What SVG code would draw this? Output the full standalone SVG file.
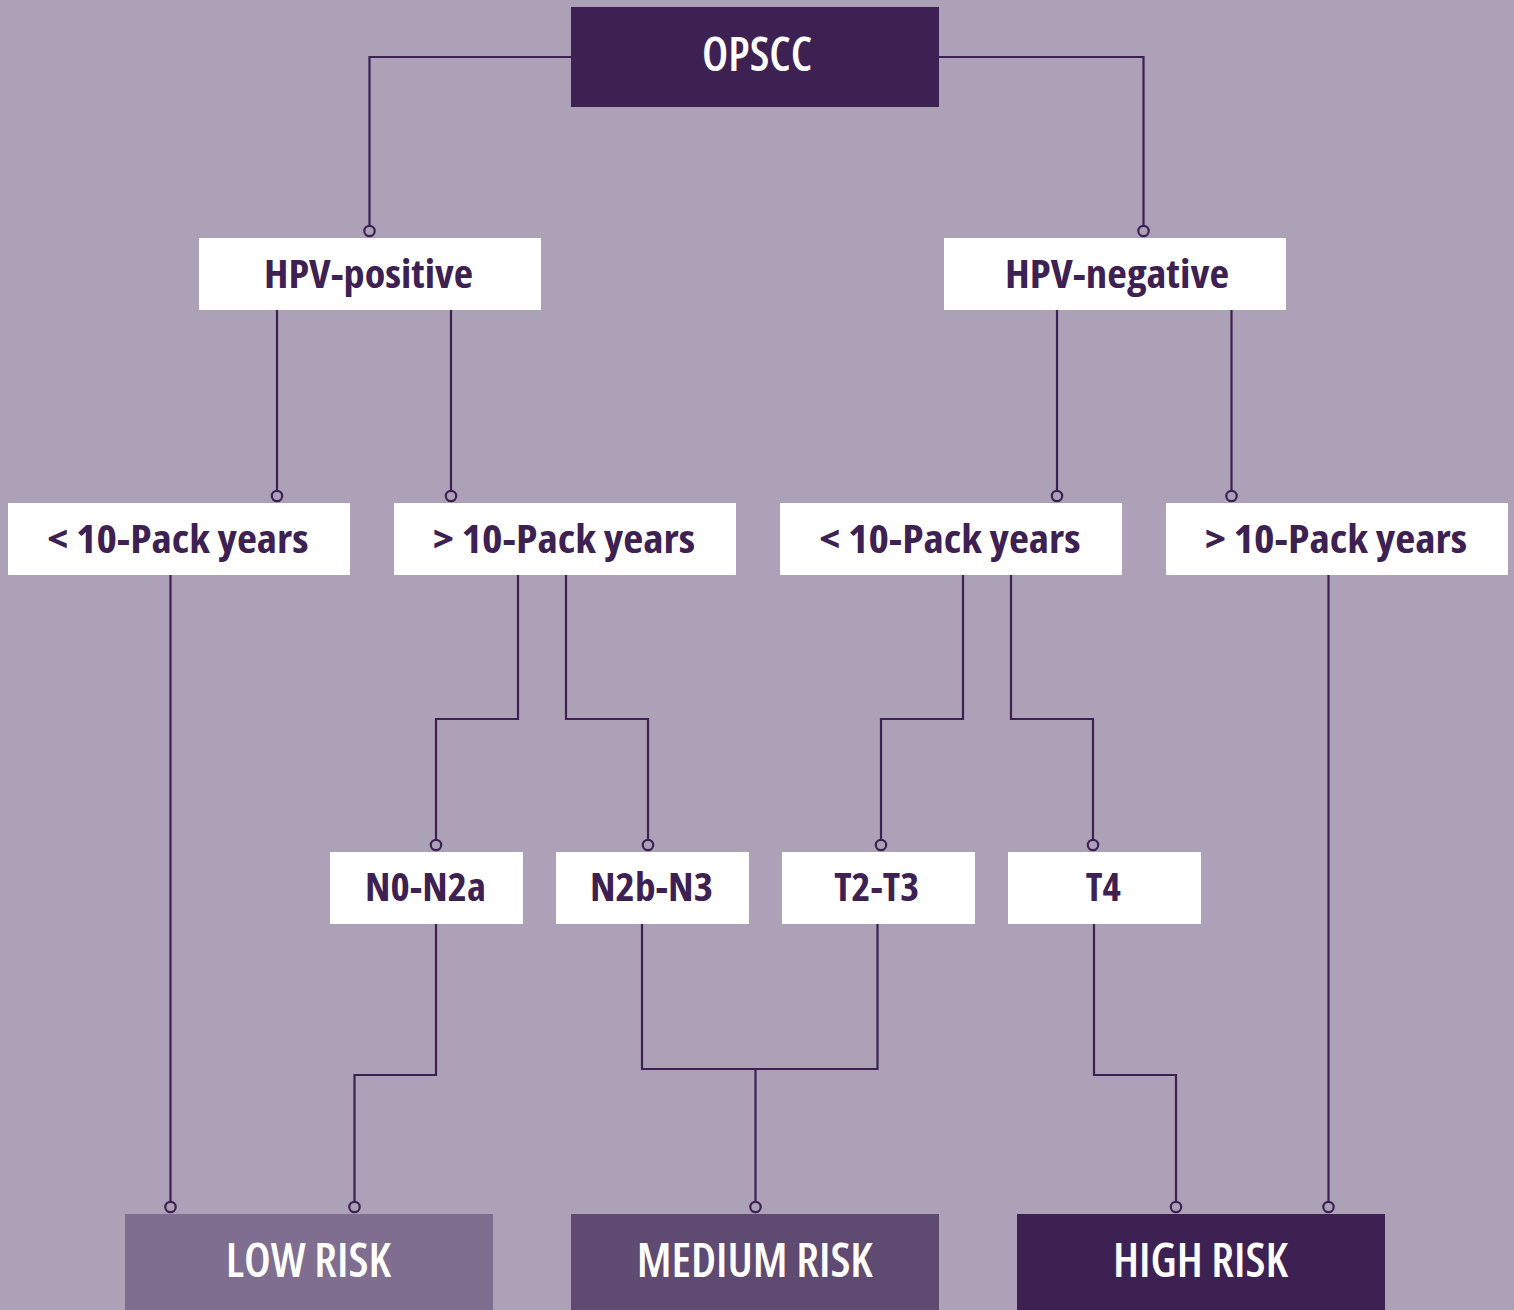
<svg xmlns="http://www.w3.org/2000/svg" width="1514" height="1310" viewBox="0 0 1514 1310">
<style>
  .bg{fill:#ADA1B8}
  .w{fill:#FFFFFF}
  .dark{fill:#3D2152}
  .low{fill:#7F6E90}
  .med{fill:#5F4A72}
  text{font-family:"Open Sans","DejaVu Sans",sans-serif;font-stretch:condensed;font-weight:700;text-anchor:middle}
  .t1{fill:#3D2152;font-size:40px}
  .t2{fill:#FFFFFF;font-size:47px;font-weight:600}
  .c{fill:none;stroke:#3D2152;stroke-width:2.2}
  .dot{fill:#ADA1B8;stroke:#3D2152;stroke-width:2.2}
</style>
<rect class="bg" x="0" y="0" width="1514" height="1310"/>
<g id="connectors">
  <path class="c" d="M571,57 H369.5 V226"/>
  <path class="c" d="M939,57 H1143.5 V226"/>
  <path class="c" d="M277,310 V491"/>
  <path class="c" d="M451,310 V491"/>
  <path class="c" d="M1057,310 V491"/>
  <path class="c" d="M1231.5,310 V491"/>
  <path class="c" d="M170.5,575 V1202"/>
  <path class="c" d="M518,575 V719 H436 V840"/>
  <path class="c" d="M566,575 V719 H648 V840"/>
  <path class="c" d="M963,575 V719 H881 V840"/>
  <path class="c" d="M1011,575 V719 H1093 V840"/>
  <path class="c" d="M1328.5,575 V1202"/>
  <path class="c" d="M436,924 V1075 H354.5 V1202"/>
  <path class="c" d="M642,924 V1069 H877.5 V924"/>
  <path class="c" d="M755.5,1069 V1202"/>
  <path class="c" d="M1094,924 V1075 H1176 V1202"/>
  <circle class="dot" cx="369.5" cy="231" r="5.2"/>
  <circle class="dot" cx="1143.5" cy="231" r="5.2"/>
  <circle class="dot" cx="277" cy="496" r="5.2"/>
  <circle class="dot" cx="451" cy="496" r="5.2"/>
  <circle class="dot" cx="1057" cy="496" r="5.2"/>
  <circle class="dot" cx="1231.5" cy="496" r="5.2"/>
  <circle class="dot" cx="436" cy="845" r="5.2"/>
  <circle class="dot" cx="648" cy="845" r="5.2"/>
  <circle class="dot" cx="881" cy="845" r="5.2"/>
  <circle class="dot" cx="1093" cy="845" r="5.2"/>
  <circle class="dot" cx="170.5" cy="1207" r="5.2"/>
  <circle class="dot" cx="354.5" cy="1207" r="5.2"/>
  <circle class="dot" cx="755.5" cy="1207" r="5.2"/>
  <circle class="dot" cx="1176" cy="1207" r="5.2"/>
  <circle class="dot" cx="1328.5" cy="1207" r="5.2"/>
</g>
<g id="opscc"><rect class="dark" x="571" y="7" width="368" height="100"/><text class="t2" x="757" y="71" textLength="110" lengthAdjust="spacingAndGlyphs">OPSCC</text></g>
<g id="hpv-pos"><rect class="w" x="199" y="238" width="342" height="72"/><text class="t1" x="368.5" y="288" textLength="209" lengthAdjust="spacingAndGlyphs">HPV-positive</text></g>
<g id="hpv-neg"><rect class="w" x="944" y="238" width="342" height="72"/><text class="t1" x="1117" y="288" textLength="224" lengthAdjust="spacingAndGlyphs">HPV-negative</text></g>
<g id="pos-lt10"><rect class="w" x="8" y="503" width="342" height="72"/><text class="t1" x="178" y="553" textLength="261" lengthAdjust="spacingAndGlyphs">&lt; 10-Pack years</text></g>
<g id="pos-gt10"><rect class="w" x="394" y="503" width="342" height="72"/><text class="t1" x="564" y="553" textLength="262" lengthAdjust="spacingAndGlyphs">&gt; 10-Pack years</text></g>
<g id="neg-lt10"><rect class="w" x="780" y="503" width="342" height="72"/><text class="t1" x="950" y="553" textLength="261" lengthAdjust="spacingAndGlyphs">&lt; 10-Pack years</text></g>
<g id="neg-gt10"><rect class="w" x="1166" y="503" width="342" height="72"/><text class="t1" x="1336" y="553" textLength="262" lengthAdjust="spacingAndGlyphs">&gt; 10-Pack years</text></g>
<g id="n0n2a"><rect class="w" x="330" y="852" width="193" height="72"/><text class="t1" x="425.5" y="901" textLength="121" lengthAdjust="spacingAndGlyphs">N0-N2a</text></g>
<g id="n2bn3"><rect class="w" x="556" y="852" width="193" height="72"/><text class="t1" x="651.5" y="901" textLength="123" lengthAdjust="spacingAndGlyphs">N2b-N3</text></g>
<g id="t2t3"><rect class="w" x="782" y="852" width="193" height="72"/><text class="t1" x="876.7" y="901" textLength="85" lengthAdjust="spacingAndGlyphs">T2-T3</text></g>
<g id="t4"><rect class="w" x="1008" y="852" width="193" height="72"/><text class="t1" x="1103.2" y="901" textLength="35" lengthAdjust="spacingAndGlyphs">T4</text></g>
<g id="low"><rect class="low" x="125" y="1214" width="368" height="96"/><text class="t2" x="308.3" y="1277" textLength="165" lengthAdjust="spacingAndGlyphs">LOW RISK</text></g>
<g id="medium"><rect class="med" x="571" y="1214" width="368" height="96"/><text class="t2" x="754.7" y="1277" textLength="236" lengthAdjust="spacingAndGlyphs">MEDIUM RISK</text></g>
<g id="high"><rect class="dark" x="1017" y="1214" width="368" height="96"/><text class="t2" x="1200.4" y="1277" textLength="175" lengthAdjust="spacingAndGlyphs">HIGH RISK</text></g>
</svg>
